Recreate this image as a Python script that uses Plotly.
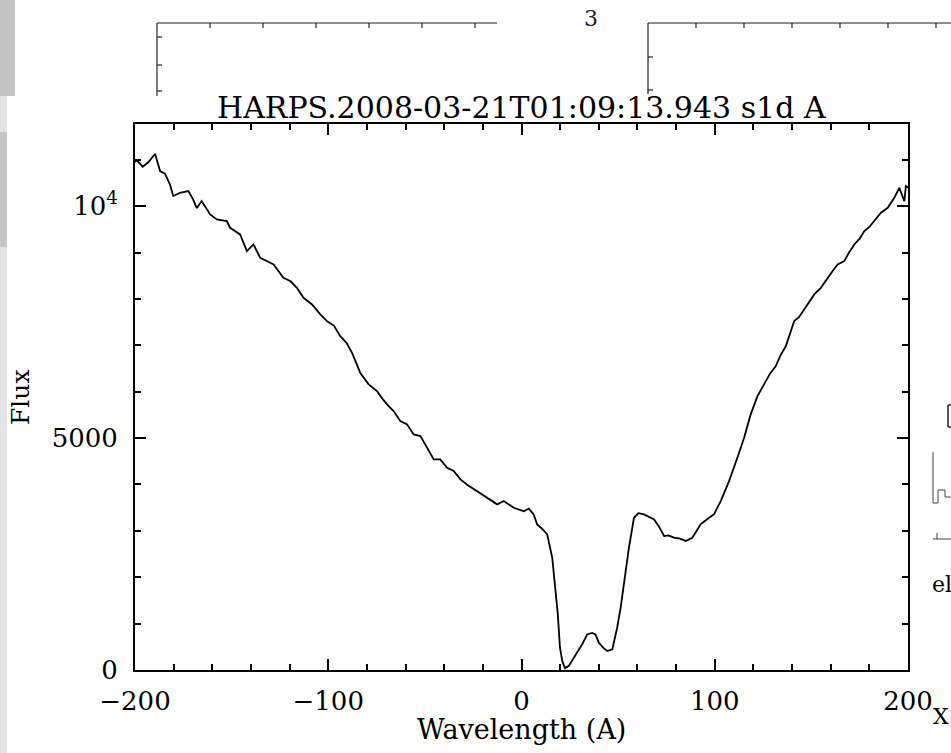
import plotly.graph_objects as go

# ---------------- data ----------------
wavelength = [-200, -199.1, -196, -193, -189.6, -187, -184.5, -181.9, -180.2, -176.7,
              -172.4, -170, -168.0, -165.5, -161.1, -157.7, -152.5, -150.8, -145.6, -142.1,
              -138.7, -135.2, -131, -128.3, -123.2, -119.5, -116.2, -112.8, -108.4, -104.1,
              -100.7, -97, -93.8, -90.5, -87.6, -83.4, -79.1, -74.8, -72, -69.6,
              -66.2, -62.7, -59.2, -55.8, -52.3, -48.9, -45.4, -42.0, -38.5, -35.1,
              -31.6, -28.1, -23.0, -17.8, -12.6, -9.2, -4.0, 1.2, 3.8, 6.3,
              8.1, 10.5, 13.3, 15.9, 17.6, 18.8, 19.9, 21.1, 22.5, 24.5,
              27.1, 29.5, 31.4, 34.0, 36.5, 38.3, 40.0, 42.5, 44.4, 47.0,
              49.5, 51.3, 53.9, 55.6, 58.2, 60.5, 63.4, 66, 68.6, 71,
              73.8, 76, 78.9, 82, 85.0, 88.4, 92.7, 96, 99.6, 103.1,
              107.4, 111.7, 115.2, 118.6, 122.1, 125.5, 128.5, 131.6, 134, 136.8,
              139, 141.1, 143.5, 146.3, 149, 151.5, 154.9, 158.4, 161, 163.6,
              167.0, 169.5, 172.2, 175, 177.4, 180, 182.6, 186.0, 189.5, 192.9,
              195.5, 198.1, 198.9, 200]
flux = [10950, 10991, 10850, 10950, 11128, 10754, 10700, 10467, 10216, 10287,
        10323, 10150, 9957, 10108, 9821, 9713, 9677, 9533, 9390, 9030,
        9174, 8886, 8800, 8742, 8455, 8380, 8239, 8024, 7880, 7665,
        7521, 7420, 7198, 7050, 6832, 6400, 6157, 6013, 5850, 5726,
        5582, 5366, 5295, 5079, 5043, 4791, 4540, 4540, 4360, 4289,
        4109, 3994, 3858, 3714, 3571, 3642, 3498, 3420, 3480, 3355,
        3139, 3050, 2924, 2421, 1774, 1200, 481, 194, 40, 90,
        265, 420, 554, 767, 800, 767, 589, 470, 409, 445,
        911, 1343, 2134, 2636, 3282, 3380, 3355, 3300, 3247, 3100,
        2888, 2900, 2852, 2830, 2780, 2852, 3139, 3250, 3355, 3642,
        4073, 4576, 5007, 5510, 5905, 6157, 6380, 6552, 6780, 6983,
        7250, 7521, 7600, 7773, 7950, 8096, 8239, 8455, 8600, 8742,
        8814, 9000, 9174, 9300, 9461, 9550, 9677, 9857, 9964, 10179,
        10395, 10108, 10431, 10400]

title_text = "HARPS.2008-03-21T01:09:13.943 s1d A"
x_title = "Wavelength (A)"
y_title = "Flux"
y_tickvals = [0, 5000, 10000]
y_ticktext = ["0", "5000", "10<sup>4</sup>"]

FONT = "DejaVu Serif"

W, H = 951, 753
L, R, T, B = 135, 908, 124, 670


def xp(px):
    return (px - L) / (R - L)


def yp(py):
    return (B - py) / (B - T)


fig = go.Figure()
fig.add_trace(go.Scatter(
    x=wavelength, y=flux, mode="lines",
    line=dict(color="black", width=1.8, shape="linear"),
    showlegend=False, hoverinfo="skip"))

axis_common = dict(
    showline=True, linecolor="black", linewidth=2, mirror="allticks",
    ticks="inside", ticklen=11, tickwidth=1.5, tickcolor="black",
    showgrid=False, zeroline=False,
    tickfont=dict(family=FONT, size=26, color="black"),
)

fig.update_xaxes(
    range=[-200, 200], tickmode="linear", tick0=0, dtick=100,
    minor=dict(ticks="inside", tickmode="linear", tick0=0, dtick=20,
               ticklen=6, tickwidth=1.5, tickcolor="black", showgrid=False),
    ticklabelstandoff=7,
    **axis_common)
fig.update_yaxes(
    range=[0, 11770], tickmode="array", tickvals=y_tickvals, ticktext=y_ticktext,
    minor=dict(ticks="inside", tickmode="linear", tick0=0, dtick=1000,
               ticklen=6, tickwidth=1.5, tickcolor="black", showgrid=False),
    ticklabelstandoff=10,
    **axis_common)

shapes = []
# window chrome on the left edge
shapes.append(dict(type="rect", xref="paper", yref="paper",
                   x0=xp(0), x1=xp(15), y0=yp(96), y1=yp(0),
                   fillcolor="#c4c4c4", line=dict(width=0), layer="below"))
shapes.append(dict(type="rect", xref="paper", yref="paper",
                   x0=xp(0), x1=xp(7), y0=yp(753), y1=yp(96),
                   fillcolor="#e4e4e4", line=dict(width=0), layer="below"))
shapes.append(dict(type="rect", xref="paper", yref="paper",
                   x0=xp(0), x1=xp(7), y0=yp(247), y1=yp(132),
                   fillcolor="#c4c4c4", line=dict(width=0), layer="below"))


def seg(x0, y0, x1, y1, w=1.2, c="#222222"):
    shapes.append(dict(type="line", xref="paper", yref="paper",
                       x0=xp(x0), y0=yp(y0), x1=xp(x1), y1=yp(y1),
                       line=dict(color=c, width=w)))


# background frame 1
seg(157, 23, 497, 23)
seg(157, 23, 157, 96)
for ty in [37, 65, 91]:
    seg(157, ty, 162, ty)
for tx in [210, 263, 316, 369, 422, 475]:
    seg(tx, 23, tx, 28)
# background frame 2
seg(648, 23, 951, 23)
seg(648, 23, 648, 94)
for ty in [57, 90]:
    seg(648, ty, 653, ty)
for tx in [696, 744, 792, 840, 888, 936]:
    seg(tx, 23, tx, 28)
# right-edge fragments
seg(933, 452, 933, 503, 1.0, "#444444")
seg(933, 503, 938, 503, 1.0, "#444444")
seg(938, 503, 938, 490, 1.0, "#444444")
seg(938, 490, 945, 490, 1.0, "#444444")
seg(945, 490, 945, 497, 1.0, "#444444")
seg(945, 497, 951, 497, 1.0, "#444444")
seg(948, 405, 948, 427, 1.5, "#222222")
seg(948, 405, 951, 405, 1.5, "#222222")
seg(948, 427, 951, 427, 1.5, "#222222")
seg(933, 539, 951, 539, 1.0, "#444444")
seg(937, 533, 937, 539, 1.0, "#444444")

annotations = [
    dict(text=title_text, xref="paper", yref="paper", x=0.5, y=yp(107),
         xanchor="center", yanchor="middle", showarrow=False,
         font=dict(family=FONT, size=30, color="black")),
    dict(text=x_title, xref="paper", yref="paper", x=0.5, y=yp(729),
         xanchor="center", yanchor="middle", showarrow=False,
         font=dict(family=FONT, size=27, color="black")),
    dict(text=y_title, xref="paper", yref="paper", x=xp(20), y=yp(397),
         xanchor="center", yanchor="middle", showarrow=False, textangle=-90,
         font=dict(family=FONT, size=25, color="black")),
    dict(text="3", xref="paper", yref="paper", x=xp(591), y=yp(18),
         xanchor="center", yanchor="middle", showarrow=False,
         font=dict(family=FONT, size=22, color="#222222")),
    dict(text="X", xref="paper", yref="paper", x=xp(941), y=yp(716),
         xanchor="center", yanchor="middle", showarrow=False,
         font=dict(family=FONT, size=22, color="black")),
    dict(text="el", xref="paper", yref="paper", x=xp(930), y=yp(584),
         xanchor="left", yanchor="middle", showarrow=False,
         font=dict(family=FONT, size=22, color="black")),
]

fig.update_layout(
    width=W, height=H,
    margin=dict(l=L, r=W - R, t=T, b=H - B, pad=0),
    paper_bgcolor="white", plot_bgcolor="white",
    shapes=shapes, annotations=annotations,
    font=dict(family=FONT, color="black"),
)

fig.write_html("out.html")
